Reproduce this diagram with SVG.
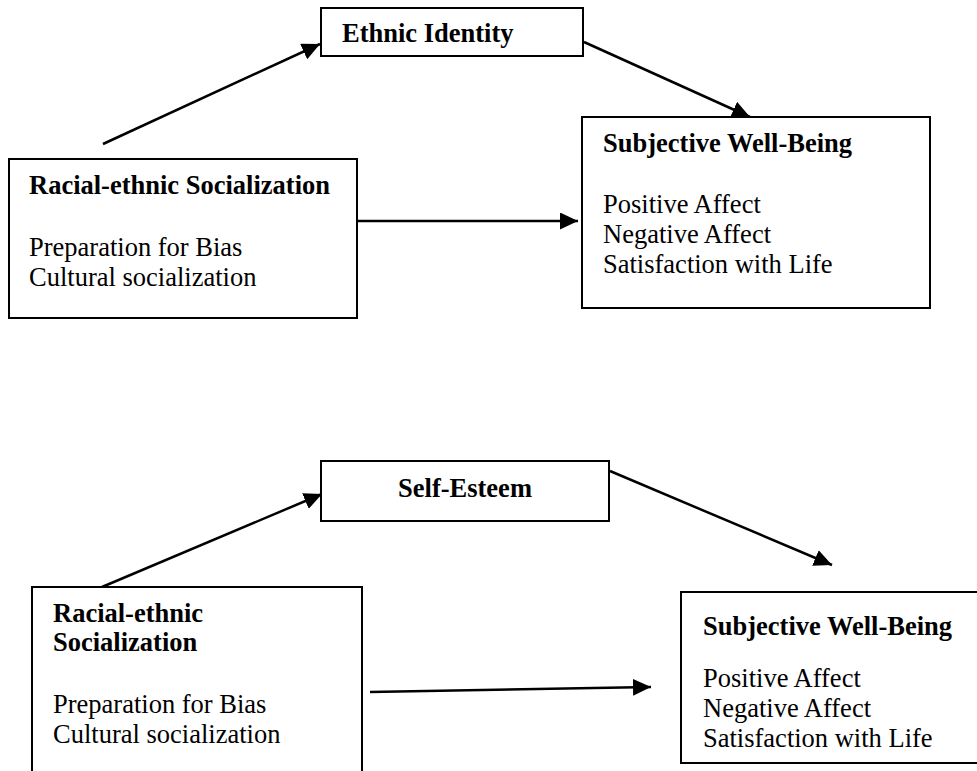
<svg xmlns="http://www.w3.org/2000/svg" width="977" height="771" viewBox="0 0 977 771">
<style>
.box{fill:#fff;stroke:#000;stroke-width:2}
.t{font-family:"Liberation Serif","Times New Roman",serif;font-size:26.5px;fill:#000}
.b{font-weight:bold}
.c{stroke:#000;stroke-width:2.5;fill:none;marker-end:url(#ah)}
</style>
<defs>
<marker id="ah" markerUnits="userSpaceOnUse" markerWidth="19" markerHeight="17" refX="18" refY="8.5" orient="auto">
<path d="M0,0 L18,8.5 L0,17 z" fill="#000"/>
</marker>
</defs>
<rect width="977" height="771" fill="#fff"/>
<g id="connectors">
<line class="c" x1="103" y1="144" x2="320" y2="44"/>
<line class="c" x1="584" y1="42" x2="750" y2="117"/>
<line class="c" x1="357" y1="221" x2="578" y2="221"/>
<line class="c" x1="102" y1="587" x2="322" y2="494"/>
<line class="c" x1="610" y1="471" x2="832" y2="565"/>
<line class="c" x1="370" y1="692" x2="651" y2="687"/>
</g>
<g id="ethnic-identity">
<rect class="box" x="321" y="8" width="262" height="48"/>
<text class="t b" x="342" y="42">Ethnic Identity</text>
</g>
<g id="racial-top">
<rect class="box" x="9" y="159" width="348" height="159"/>
<text class="t b" x="29" y="194">Racial-ethnic Socialization</text>
<text class="t" x="29" y="256">Preparation for Bias</text>
<text class="t" x="29" y="286">Cultural socialization</text>
</g>
<g id="swb-top">
<rect class="box" x="582" y="117" width="348" height="191"/>
<text class="t b" x="603" y="152">Subjective Well-Being</text>
<text class="t" x="603" y="213">Positive Affect</text>
<text class="t" x="603" y="243">Negative Affect</text>
<text class="t" x="603" y="273">Satisfaction with Life</text>
</g>
<g id="self-esteem">
<rect class="box" x="321" y="461" width="288" height="60"/>
<text class="t b" x="465" y="497" text-anchor="middle">Self-Esteem</text>
</g>
<g id="racial-bottom">
<rect class="box" x="32" y="587" width="330" height="200"/>
<text class="t b" x="53" y="622">Racial-ethnic</text>
<text class="t b" x="53" y="651">Socialization</text>
<text class="t" x="53" y="713">Preparation for Bias</text>
<text class="t" x="53" y="743">Cultural socialization</text>
</g>
<g id="swb-bottom">
<rect class="box" x="681" y="592" width="310" height="171"/>
<text class="t b" x="703" y="635">Subjective Well-Being</text>
<text class="t" x="703" y="687">Positive Affect</text>
<text class="t" x="703" y="717">Negative Affect</text>
<text class="t" x="703" y="747">Satisfaction with Life</text>
</g>
</svg>
